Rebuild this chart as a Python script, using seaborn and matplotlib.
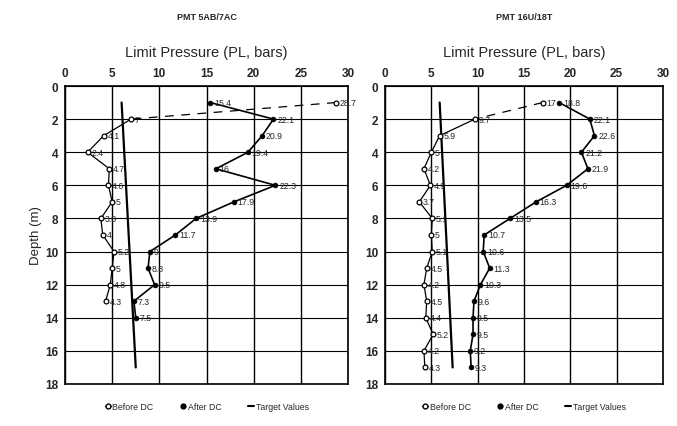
import matplotlib
matplotlib.use("Agg")
import matplotlib.pyplot as plt
import seaborn as sns
import pandas as pd
from matplotlib.lines import Line2D

# ---------------- data ----------------
titles = ["PMT 5AB/7AC", "PMT 16U/18T"]

# PMT 5AB/7AC
left_before_depth = [1, 2, 3, 4, 5, 6, 7, 8, 9, 10, 11, 12, 13]
left_before_pl = [28.7, 7.0, 4.1, 2.4, 4.7, 4.6, 5.0, 3.8, 4.0, 5.2, 5.0, 4.8, 4.3]
left_after_depth = [1, 2, 3, 4, 5, 6, 7, 8, 9, 10, 11, 12, 13, 14]
left_after_pl = [15.4, 22.1, 20.9, 19.4, 16.0, 22.3, 17.9, 13.9, 11.7, 9.0, 8.8, 9.5, 7.3, 7.5]
left_target_depth = [1, 17]
left_target_pl = [6.0, 7.5]

# PMT 16U/18T
right_before_depth = [1, 2, 3, 4, 5, 6, 7, 8, 9, 10, 11, 12, 13, 14, 15, 16, 17]
right_before_pl = [17.0, 9.7, 5.9, 5.0, 4.2, 4.9, 3.7, 5.1, 5.0, 5.1, 4.5, 4.2, 4.5, 4.4, 5.2, 4.2, 4.3]
right_after_depth = [1, 2, 3, 4, 5, 6, 7, 8, 9, 10, 11, 12, 13, 14, 15, 16, 17]
right_after_pl = [18.8, 22.1, 22.6, 21.2, 21.9, 19.6, 16.3, 13.5, 10.7, 10.6, 11.3, 10.3, 9.6, 9.5, 9.5, 9.2, 9.3]
right_target_depth = [1, 17]
right_target_pl = [5.9, 7.3]

x_ticks = [0, 5, 10, 15, 20, 25, 30]
y_ticks = [0, 2, 4, 6, 8, 10, 12, 14, 16, 18]

# ---------------- style ----------------
sns.set_theme(style="white")
plt.rcParams["font.family"] = ["Liberation Sans", "DejaVu Sans"]

fig = plt.figure(figsize=(6.77, 4.27), dpi=100)
axes = [
    fig.add_axes([65 / 677, 1 - 385 / 427, 283 / 677, 298 / 427]),
    fig.add_axes([385 / 677, 1 - 385 / 427, 278 / 677, 298 / 427]),
]

panels = [
    (left_before_depth, left_before_pl, left_after_depth, left_after_pl,
     left_target_depth, left_target_pl),
    (right_before_depth, right_before_pl, right_after_depth, right_after_pl,
     right_target_depth, right_target_pl),
]


def fmt(v):
    return f"{v:g}"


for i, (ax, (bd, bp, ad, ap, td, tp)) in enumerate(zip(axes, panels)):
    # target values
    sns.lineplot(x=tp, y=td, sort=False, estimator=None, ax=ax,
                 color="black", lw=1.6, zorder=3)
    # before DC: first segment dashed, rest solid
    sns.lineplot(x=bp[:2], y=bd[:2], sort=False, estimator=None, ax=ax,
                 color="black", lw=0.9, linestyle=(0, (7, 6)), zorder=3)
    sns.lineplot(x=bp[1:], y=bd[1:], sort=False, estimator=None, ax=ax,
                 color="black", lw=0.9, zorder=3)
    sns.scatterplot(x=bp, y=bd, ax=ax, marker="o", s=12, facecolor="white",
                    edgecolor="black", linewidth=0.9, zorder=4)
    # after DC
    sns.lineplot(x=ap, y=ad, sort=False, estimator=None, ax=ax,
                 color="black", lw=1.2, zorder=3)
    sns.scatterplot(x=ap, y=ad, ax=ax, marker="o", s=12, color="black",
                    edgecolor="black", linewidth=0.5, zorder=4)

    for xv, yv in zip(bp, bd):
        ax.text(xv + 0.4, yv, fmt(xv), fontsize=6.3, va="center", ha="left",
                zorder=5)
    for xv, yv in zip(ap, ad):
        ax.text(xv + 0.4, yv, fmt(xv), fontsize=6.3, va="center", ha="left",
                zorder=5)

    ax.set_xlim(0, 30)
    ax.set_ylim(18, 0)
    ax.set_xticks(x_ticks)
    ax.set_yticks(y_ticks)
    ax.xaxis.tick_top()
    ax.xaxis.set_label_position("top")
    ax.tick_params(axis="both", labelsize=8.5, length=0, pad=5)
    for lab in ax.get_xticklabels() + ax.get_yticklabels():
        lab.set_fontweight("bold")
    ax.xaxis.grid(True, color="black", lw=1.0)
    ax.yaxis.grid(True, color="black", lw=0.8)
    ax.set_axisbelow(True)
    for sp in ax.spines.values():
        sp.set_color("black")
        sp.set_linewidth(1.2)
    ax.set_xlabel("Limit Pressure (PL, bars)", fontsize=10.5, labelpad=8)
    ax.set_ylabel("Depth (m)" if i == 0 else "", fontsize=9.5, labelpad=2)
    ax.set_title(titles[i], fontsize=6.5, fontweight="bold", pad=48)

    handles = [
        Line2D([], [], color="black", lw=0.8, marker="o", markersize=3.5,
               markerfacecolor="white", markeredgecolor="black"),
        Line2D([], [], color="black", lw=0, marker="o", markersize=3.5,
               markerfacecolor="black", markeredgecolor="black"),
        Line2D([], [], color="black", lw=1.5),
    ]
    ax.legend(handles, ["Before DC", "After DC", "Target Values"],
              loc="upper center", bbox_to_anchor=(0.5, -0.035), ncol=3,
              frameon=False, fontsize=6.3, handlelength=0.7,
              handletextpad=0.2, columnspacing=3.0)

fig.savefig("out.png", dpi=100)
